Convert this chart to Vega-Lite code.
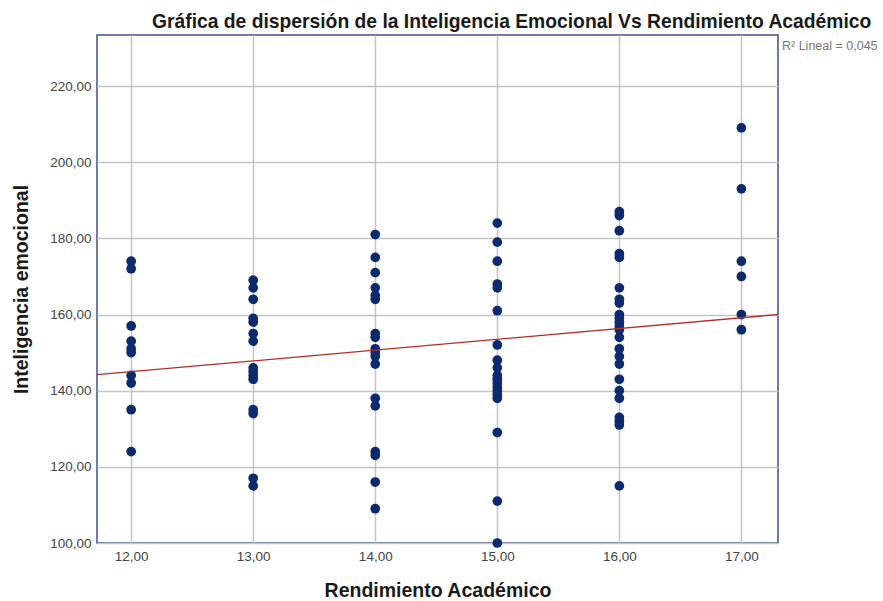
{
  "$schema": "https://vega.github.io/schema/vega-lite/v6.json",
  "width": 681,
  "height": 508,
  "autosize": {"type": "none"},
  "padding": {"left": 97, "top": 35, "right": 105, "bottom": 58},
  "background": "white",
  "config": {
    "view": {"stroke": "#3f5185", "strokeWidth": 1.5},
    "font": "Liberation Sans"
  },
  "title": {
    "text": "Gráfica de dispersión de la Inteligencia Emocional Vs Rendimiento Académico",
    "font": "Liberation Sans",
    "fontSize": 19.3,
    "fontWeight": "bold",
    "color": "#1a1a1a",
    "anchor": "start",
    "frame": "group",
    "dx": 55,
    "offset": 3
  },
  "data": {
    "values": [
      {"ra": 12, "ie": 174}, {"ra": 12, "ie": 172}, {"ra": 12, "ie": 157}, {"ra": 12, "ie": 153}, {"ra": 12, "ie": 151},
      {"ra": 12, "ie": 150}, {"ra": 12, "ie": 144}, {"ra": 12, "ie": 142}, {"ra": 12, "ie": 135}, {"ra": 12, "ie": 124},
      {"ra": 13, "ie": 169}, {"ra": 13, "ie": 167}, {"ra": 13, "ie": 164}, {"ra": 13, "ie": 159}, {"ra": 13, "ie": 158},
      {"ra": 13, "ie": 155}, {"ra": 13, "ie": 153}, {"ra": 13, "ie": 146}, {"ra": 13, "ie": 145}, {"ra": 13, "ie": 144},
      {"ra": 13, "ie": 143}, {"ra": 13, "ie": 135}, {"ra": 13, "ie": 134}, {"ra": 13, "ie": 117}, {"ra": 13, "ie": 115},
      {"ra": 14, "ie": 181}, {"ra": 14, "ie": 175}, {"ra": 14, "ie": 171}, {"ra": 14, "ie": 167}, {"ra": 14, "ie": 165},
      {"ra": 14, "ie": 164}, {"ra": 14, "ie": 155}, {"ra": 14, "ie": 154}, {"ra": 14, "ie": 151}, {"ra": 14, "ie": 150},
      {"ra": 14, "ie": 149}, {"ra": 14, "ie": 147}, {"ra": 14, "ie": 138}, {"ra": 14, "ie": 136}, {"ra": 14, "ie": 124},
      {"ra": 14, "ie": 123}, {"ra": 14, "ie": 116}, {"ra": 14, "ie": 109},
      {"ra": 15, "ie": 184}, {"ra": 15, "ie": 179}, {"ra": 15, "ie": 174}, {"ra": 15, "ie": 168}, {"ra": 15, "ie": 167},
      {"ra": 15, "ie": 161}, {"ra": 15, "ie": 152}, {"ra": 15, "ie": 148}, {"ra": 15, "ie": 146}, {"ra": 15, "ie": 144},
      {"ra": 15, "ie": 143}, {"ra": 15, "ie": 142}, {"ra": 15, "ie": 141}, {"ra": 15, "ie": 140}, {"ra": 15, "ie": 139},
      {"ra": 15, "ie": 138}, {"ra": 15, "ie": 129}, {"ra": 15, "ie": 111}, {"ra": 15, "ie": 100},
      {"ra": 16, "ie": 187}, {"ra": 16, "ie": 186}, {"ra": 16, "ie": 182}, {"ra": 16, "ie": 176}, {"ra": 16, "ie": 175},
      {"ra": 16, "ie": 167}, {"ra": 16, "ie": 164}, {"ra": 16, "ie": 163}, {"ra": 16, "ie": 160}, {"ra": 16, "ie": 159},
      {"ra": 16, "ie": 158}, {"ra": 16, "ie": 157}, {"ra": 16, "ie": 156}, {"ra": 16, "ie": 154}, {"ra": 16, "ie": 151},
      {"ra": 16, "ie": 149}, {"ra": 16, "ie": 147}, {"ra": 16, "ie": 143}, {"ra": 16, "ie": 140}, {"ra": 16, "ie": 138},
      {"ra": 16, "ie": 133}, {"ra": 16, "ie": 132}, {"ra": 16, "ie": 131}, {"ra": 16, "ie": 115},
      {"ra": 17, "ie": 209}, {"ra": 17, "ie": 193}, {"ra": 17, "ie": 174}, {"ra": 17, "ie": 170}, {"ra": 17, "ie": 160},
      {"ra": 17, "ie": 156}
    ]
  },
  "encoding": {
    "x": {
      "field": "ra", "type": "quantitative",
      "scale": {"domain": [11.72, 17.3], "nice": false, "zero": false},
      "axis": {
        "title": "Rendimiento Académico",
        "values": [12, 13, 14, 15, 16, 17],
        "labelExpr": "replace(format(datum.value, '.2f'), '.', ',')",
        "labelFont": "Liberation Sans", "labelFontSize": 13.5, "labelColor": "#444444",
        "labelPadding": 6,
        "titleFont": "Liberation Sans", "titleFontSize": 19.5, "titleFontWeight": "bold", "titleColor": "#1a1a1a",
        "titlePadding": 19,
        "ticks": false, "domain": false,
        "grid": true, "gridColor": "#c4c4c4", "gridWidth": 1.5
      }
    },
    "y": {
      "field": "ie", "type": "quantitative",
      "scale": {"domain": [100, 233.4], "nice": false, "zero": false},
      "axis": {
        "title": "Inteligencia emocional",
        "values": [100, 120, 140, 160, 180, 200, 220],
        "labelExpr": "replace(format(datum.value, '.2f'), '.', ',')",
        "labelFont": "Liberation Sans", "labelFontSize": 13.5, "labelColor": "#444444",
        "labelPadding": 6,
        "titleFont": "Liberation Sans", "titleFontSize": 19.5, "titleFontWeight": "bold", "titleColor": "#1a1a1a",
        "titlePadding": 18,
        "ticks": false, "domain": false,
        "grid": true, "gridColor": "#c4c4c4", "gridWidth": 1.5
      }
    }
  },
  "layer": [
    {
      "mark": {"type": "circle", "size": 95, "color": "#0c2a6e", "opacity": 1}
    },
    {
      "data": {"values": [{"ra": 11.72, "ie": 144.2}, {"ra": 17.3, "ie": 160.0}]},
      "mark": {"type": "line", "color": "#b03028", "strokeWidth": 1.3, "clip": true}
    },
    {
      "data": {"values": [{"ra": 17.3, "ie": 230.5, "label": "R² Lineal = 0,045"}]},
      "mark": {"type": "text", "align": "left", "baseline": "middle", "dx": 4, "fontSize": 12.5, "color": "#777777", "font": "Liberation Sans"},
      "encoding": {"text": {"field": "label"}}
    }
  ]
}
